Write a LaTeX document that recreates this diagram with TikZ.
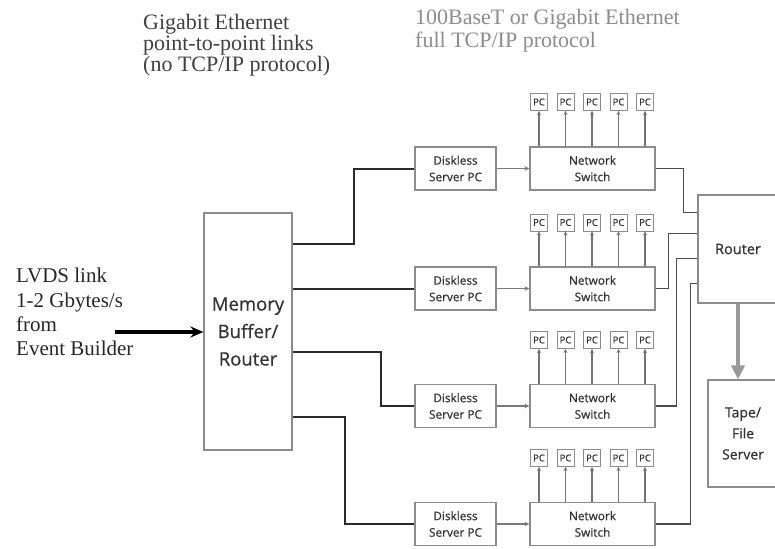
\documentclass[tikz,border=0pt]{standalone}
\usepackage{fontspec}
\setmainfont{Liberation Serif}
\setsansfont{Open Sans}
\newfontfamily\boxfont[FakeBold=0.6]{Open Sans}
\usepackage{tikz}
\usetikzlibrary{arrows.meta,positioning}

\definecolor{linkgray}{HTML}{2A2A2A}
\definecolor{boxgray}{HTML}{8C8C8C}
\definecolor{feedgray}{HTML}{7A7A7A}
\definecolor{labelgray}{HTML}{333333}

\begin{document}
\begin{tikzpicture}[
  x=1pt, y=-1pt,
  box/.style={draw=boxgray, line width=1.1pt, fill=white, align=center, inner sep=0pt,
    text=labelgray, font=\boxfont\fontsize{11.8}{16.5}\selectfont},
  diskless/.style={box, minimum width=81pt, minimum height=43pt},
  switchbox/.style={box, minimum width=125pt, minimum height=43pt},
  pcbox/.style={draw=boxgray, line width=0.9pt, minimum size=17pt, inner sep=0pt,
    text=labelgray, font=\boxfont\fontsize{9.5}{10}\selectfont},
  link/.style={draw=linkgray, line width=2pt},
  uplink/.style={draw=black!70, line width=1.5pt},
  feed/.style={draw=feedgray, line width=1.7pt, -{Stealth[length=5pt,width=4.5pt]}},
  pcarrow/.style={draw=black!55, line width=1.5pt, -{Stealth[length=4pt,width=4pt]}},
  serifnote/.style={anchor=north west, inner sep=0pt, align=left}
]
\useasboundingbox (0,0) rectangle (775,548);

% Header notes
\node[serifnote, text=black!75, font=\fontsize{22}{21}\selectfont] (gbnote) at (143,14) {Gigabit Ethernet\\point-to-point links\\(no TCP/IP protocol)};
\node[serifnote, text=black!45, font=\fontsize{22}{23}\selectfont] (tcpnote) at (415,9) {100BaseT or Gigabit Ethernet\\full TCP/IP protocol};

% Input from the event builder
\node[serifnote, text=black!85, font=\fontsize{21}{24.3}\selectfont] (lvds) at (16,268) {LVDS link\\1-2 Gbytes/s\\from\\Event Builder};

% Main boxes
\node[box, minimum width=88pt, minimum height=237pt, font=\boxfont\fontsize{18.5}{27.5}\selectfont] (mem) at (248,331.5) {Memory\\Buffer/\\Router};
\node[box, minimum width=80pt, minimum height=108pt, font=\boxfont\fontsize{14.5}{18}\selectfont] (router) at (738,249) {Router};
\node[box, minimum width=70pt, minimum height=107pt, font=\boxfont\fontsize{14}{21}\selectfont] (tape) at (743,433.5) {Tape/\\File\\Server};

\node[diskless] (ds1) at (455.5,168.5) {Diskless\\Server PC};
\node[diskless] (ds2) at (455.5,288.5) {Diskless\\Server PC};
\node[diskless] (ds3) at (455.5,406) {Diskless\\Server PC};
\node[diskless] (ds4) at (455.5,524) {Diskless\\Server PC};

\node[switchbox] (sw1) at (592.5,168.5) {Network\\Switch};
\node[switchbox] (sw2) at (592.5,288.5) {Network\\Switch};
\node[switchbox] (sw3) at (592.5,406) {Network\\Switch};
\node[switchbox] (sw4) at (592.5,524) {Network\\Switch};

% PCs on each switch
\foreach \r/\yy in {1/102,2/222.5,3/340,4/458} {
  \foreach \k/\xx in {1/539,2/565.5,3/592,4/618.5,5/645} {
    \node[pcbox] (pc\r\k) at (\xx,\yy) {PC};
    \draw[pcarrow] (pc\r\k.south |- sw\r.north) -- (pc\r\k.south);
  }
}

% LVDS input arrow
\coordinate (lvdsin) at (115,332);
\draw[line width=3.6pt, -{Stealth[length=13pt,width=11pt]}] (lvdsin) -- (lvdsin -| mem.west);

% Point-to-point links
\draw[link] ([yshift=-32pt]mem.north east) -- ++(61,0) |- (ds1.west);
\draw[link] (ds2.west -| mem.east) -- (ds2.west);
\draw[link] ([yshift=-140pt]mem.north east) -- ++(88,0) |- (ds3.west);
\draw[link] ([yshift=-205pt]mem.north east) -- ++(52,0) |- (ds4.west);

\foreach \r in {1,2,3,4}
  \draw[feed] (ds\r) -- (sw\r);

% Switches to router
\draw[uplink] (sw1.east) -- ++(28,0) |- ([yshift=-18pt]router.north west);
\draw[uplink] (sw2.east) -- ++(13,0) |- ([yshift=-39pt]router.north west);
\draw[uplink] (sw3.east) -- ++(21,0) |- ([yshift=-64pt]router.north west);
\draw[uplink] (sw4.east) -- ++(35,0) |- ([yshift=-89pt]router.north west);

% Router to storage
\draw[draw=black!40, line width=3.5pt, -{Triangle[length=14pt,width=13pt]}] (router.south) -- (router.south |- tape.north);
\end{tikzpicture}
\end{document}
